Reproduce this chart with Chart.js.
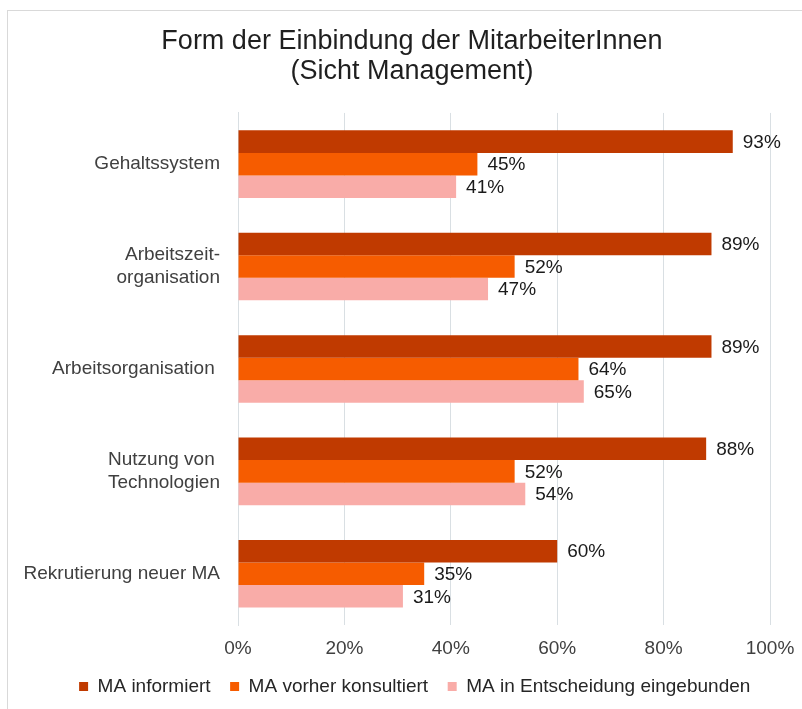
<!DOCTYPE html>
<html>
<head>
<meta charset="utf-8">
<script src="https://cdn.jsdelivr.net/npm/chart.js@4/dist/chart.umd.min.js"></script>
<style>
  body { margin: 0; background: #fff; }
  #wrap { position: relative; width: 802px; height: 709px; }
  #frame { position: absolute; left: 7px; top: 10px; right: -2px; bottom: -2px; border: 1px solid #d9d9d9; }
</style>
</head>
<body>
<div id="wrap">
  <div id="frame"></div>
  <canvas id="myChart"></canvas>
</div>
<script>
// Werte
var categories = [
  'Gehaltssystem',
  ['Arbeitszeit-', 'organisation'],
  'Arbeitsorganisation ',
  ['Nutzung von ', 'Technologien'],
  'Rekrutierung neuer MA'
];
var informiert = [93, 89, 89, 88, 60];
var konsultiert = [45, 52, 64, 52, 35];
var eingebunden = [41, 47, 65, 54, 31];
var seriesNames = ['MA informiert', 'MA vorher konsultiert', 'MA in Entscheidung eingebunden'];
var xTicks = [0, 20, 40, 60, 80, 100];

var fontFamily = '"Liberation Sans", Arial, sans-serif';

// Prozentwerte rechts neben die Balken schreiben
var valueLabels = {
  id: 'valueLabels',
  afterDatasetsDraw: function(chart) {
    var c = chart.ctx;
    c.save();
    c.font = '19px ' + fontFamily;
    c.fillStyle = '#1a1a1a';
    c.textAlign = 'left';
    c.textBaseline = 'middle';
    chart.data.datasets.forEach(function(ds, i) {
      chart.getDatasetMeta(i).data.forEach(function(bar, j) {
        c.fillText(ds.data[j] + '%', bar.x + 10, bar.y + 1);
      });
    });
    c.restore();
  }
};

// Titel und Legende wie im Original etwas nach rechts schieben
var shiftBoxes = {
  id: 'shiftBoxes',
  afterLayout: function(chart) {
    var t = chart.titleBlock, l = chart.legend;
    if (t) { var dt = 412 - (t.left + t.right) / 2; t.left += dt; t.right += dt; }
    if (l) { var dl = 420 - (l.left + l.right) / 2; l.left += dl; l.right += dl; }
  }
};

var ctx = document.getElementById('myChart').getContext('2d');

var myChart = new Chart(ctx, {
  type: 'bar',
  data: {
    labels: categories,
    datasets: [
      { label: seriesNames[0], data: informiert, backgroundColor: '#c03a00' },
      { label: seriesNames[1], data: konsultiert, backgroundColor: '#f65c00' },
      { label: seriesNames[2], data: eingebunden, backgroundColor: '#f9aca8' }
    ]
  },
  options: {
    indexAxis: 'y',
    responsive: true,
    maintainAspectRatio: false,
    animation: false,
    categoryPercentage: 0.66,
    barPercentage: 1.0,
    layout: { padding: { top: 27, right: 32, bottom: 3, left: 20 } },
    plugins: {
      title: {
        display: true,
        text: ['Form der Einbindung der MitarbeiterInnen', '(Sicht Management)'],
        color: '#1f1f1f',
        font: { family: fontFamily, size: 27, weight: 'normal', lineHeight: 1.11 },
        padding: { top: 0, bottom: 26 }
      },
      legend: {
        position: 'bottom',
        labels: {
          boxWidth: 9,
          boxHeight: 9,
          padding: 9,
          color: '#262626',
          font: { family: fontFamily, size: 19 },
          generateLabels: function(chart) {
            var items = Chart.defaults.plugins.legend.labels.generateLabels(chart);
            items.forEach(function(it) { it.text = it.text + '\u00a0\u00a0'; });
            return items;
          }
        }
      },
      tooltip: { enabled: false }
    },
    scales: {
      x: {
        min: 0,
        max: 100,
        afterBuildTicks: function(axis) {
          axis.ticks = xTicks.map(function(v) { return { value: v }; });
        },
        afterFit: function(axis) { axis.height = 43; axis.paddingRight = 0; },
        ticks: {
          color: '#404040',
          font: { family: fontFamily, size: 19 },
          padding: 12,
          callback: function(v) { return v + '%'; }
        },
        grid: { color: '#d9dfe3', drawTicks: false },
        border: { display: false }
      },
      y: {
        ticks: {
          color: '#404040',
          font: { family: fontFamily, size: 19 },
          padding: 10
        },
        grid: { display: false },
        border: { color: '#d9dfe3' },
        afterFit: function(axis) { axis.width = 218; }
      }
    }
  },
  plugins: [valueLabels, shiftBoxes]
});
</script>
</body>
</html>
